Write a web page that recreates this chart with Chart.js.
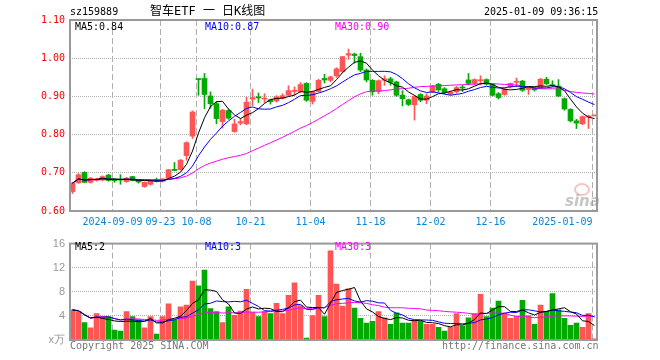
<!DOCTYPE html>
<html>
<head>
<meta charset="utf-8">
<script src="https://cdn.jsdelivr.net/npm/chart.js@4.4.1/dist/chart.umd.min.js"></script>
<style>
body { margin: 0; background: #fff; width: 660px; height: 360px; position: relative; overflow: hidden; }
canvas { position: absolute; left: 0; }
.t { position: absolute; font-family: 'DejaVu Sans Mono', monospace; font-size: 10px; line-height: 12px; white-space: pre; }
</style>
</head>
<body>
<canvas id="kline" width="660" height="232" style="top:0"></canvas>
<canvas id="vol" width="660" height="128" style="top:232px"></canvas>

<div class="t" style="left:70px;top:6px">sz159889</div>
<div class="t" style="left:150px;top:3px;font-size:12px;line-height:16px;font-family:'DejaVu Sans Mono','Noto Sans CJK SC'">智车ETF 一 日K线图</div>
<div class="t" style="left:484px;top:6px">2025-01-09 09:36:15</div>

<div class="t" style="left:75px;top:21px;color:#000">MA5:0.84</div>
<div class="t" style="left:205px;top:21px;color:#0000ff">MA10:0.87</div>
<div class="t" style="left:335px;top:21px;color:#ff00ff">MA30:0.90</div>

<div class="t" style="left:75px;top:241px;color:#000">MA5:2</div>
<div class="t" style="left:205px;top:241px;color:#0000ff">MA10:3</div>
<div class="t" style="left:335px;top:241px;color:#ff00ff">MA30:3</div>

<div class="t" style="left:70px;top:340px;color:#777">Copyright 2025 SINA.COM</div>
<div class="t" style="left:442px;top:340px;color:#777">http://finance.sina.com.cn</div>

<div style="position:absolute;left:574px;top:183px;width:12px;height:9px;border:2px solid rgba(240,120,120,0.45);border-radius:50%"></div>
<div style="position:absolute;left:565px;top:192px;font:italic bold 15px 'DejaVu Sans';color:rgba(150,150,150,0.55)">sina</div>

<script>
// trading days shown on the chart
const dates = [
  '2024-08-29','2024-08-30','2024-09-02','2024-09-03','2024-09-04','2024-09-05','2024-09-06',
  '2024-09-09','2024-09-10','2024-09-11','2024-09-12','2024-09-13','2024-09-18','2024-09-19','2024-09-20',
  '2024-09-23','2024-09-24','2024-09-25','2024-09-26','2024-09-27','2024-09-30',
  '2024-10-08','2024-10-09','2024-10-10','2024-10-11','2024-10-14','2024-10-15','2024-10-16','2024-10-17','2024-10-18',
  '2024-10-21','2024-10-22','2024-10-23','2024-10-24','2024-10-25','2024-10-28','2024-10-29','2024-10-30','2024-10-31',
  '2024-11-01','2024-11-04','2024-11-05','2024-11-06','2024-11-07','2024-11-08','2024-11-11','2024-11-12','2024-11-13',
  '2024-11-14','2024-11-15','2024-11-18','2024-11-19','2024-11-20','2024-11-21','2024-11-22','2024-11-25','2024-11-26',
  '2024-11-27','2024-11-28','2024-11-29','2024-12-02','2024-12-03','2024-12-04','2024-12-05','2024-12-06','2024-12-09',
  '2024-12-10','2024-12-11','2024-12-12','2024-12-13','2024-12-16','2024-12-17','2024-12-18','2024-12-19','2024-12-20',
  '2024-12-23','2024-12-24','2024-12-25','2024-12-26','2024-12-27','2024-12-30','2024-12-31',
  '2025-01-02','2025-01-03','2025-01-06','2025-01-07','2025-01-08','2025-01-09'
];

const opens = [
  0.651,0.674,0.701,0.675,0.680,0.681,0.694,0.681,0.683,0.677,0.690,0.680,0.664,0.670,0.682,
  0.678,0.686,0.709,0.708,0.745,0.796,0.946,0.947,0.901,0.881,0.834,0.863,0.808,0.830,0.828,
  0.893,0.899,0.893,0.891,0.888,0.895,0.903,0.913,0.913,0.934,0.887,0.913,0.947,0.942,0.954,
  0.965,1.008,1.011,1.004,0.969,0.942,0.913,0.942,0.946,0.938,0.903,0.891,0.878,0.905,0.890,
  0.912,0.932,0.920,0.906,0.912,0.924,0.943,0.934,0.941,0.944,0.931,0.907,0.905,0.925,0.937,
  0.940,0.918,0.921,0.923,0.945,0.930,0.927,0.894,0.866,0.836,0.828,0.846,0.849
];
const highs = [
  0.675,0.698,0.703,0.688,0.686,0.692,0.696,0.685,0.695,0.688,0.691,0.682,0.676,0.681,0.686,
  0.685,0.709,0.727,0.735,0.781,0.862,0.946,0.960,0.912,0.886,0.866,0.866,0.840,0.842,0.898,
  0.919,0.909,0.907,0.893,0.902,0.907,0.928,0.925,0.936,0.936,0.914,0.945,0.958,0.953,0.975,
  1.005,1.024,1.013,1.013,0.972,0.944,0.943,0.954,0.950,0.940,0.915,0.893,0.902,0.907,0.907,
  0.929,0.934,0.923,0.914,0.926,0.929,0.960,0.946,0.954,0.946,0.933,0.910,0.921,0.935,0.948,
  0.942,0.925,0.924,0.947,0.950,0.941,0.944,0.896,0.868,0.840,0.849,0.851,0.849
];
const lows = [
  0.646,0.672,0.674,0.673,0.678,0.679,0.678,0.675,0.670,0.675,0.679,0.673,0.662,0.668,0.676,
  0.676,0.685,0.705,0.707,0.733,0.790,0.903,0.868,0.869,0.828,0.817,0.840,0.806,0.826,0.826,
  0.876,0.884,0.884,0.880,0.885,0.893,0.900,0.903,0.910,0.887,0.880,0.912,0.935,0.938,0.950,
  0.962,0.997,0.987,0.965,0.938,0.903,0.907,0.929,0.929,0.900,0.875,0.876,0.838,0.886,0.881,
  0.910,0.913,0.907,0.903,0.908,0.913,0.930,0.930,0.930,0.930,0.901,0.893,0.903,0.922,0.925,
  0.913,0.905,0.914,0.921,0.931,0.925,0.899,0.864,0.833,0.816,0.826,0.816,0.849
];
const closes = [
  0.673,0.695,0.675,0.686,0.684,0.690,0.680,0.679,0.681,0.686,0.680,0.676,0.675,0.680,0.678,
  0.684,0.708,0.706,0.733,0.779,0.859,0.944,0.905,0.881,0.842,0.864,0.843,0.828,0.834,0.885,
  0.897,0.896,0.895,0.886,0.899,0.902,0.915,0.916,0.931,0.890,0.912,0.942,0.943,0.951,0.972,
  1.004,1.012,1.007,0.969,0.943,0.912,0.941,0.946,0.937,0.903,0.894,0.879,0.900,0.890,0.901,
  0.927,0.917,0.910,0.911,0.923,0.922,0.934,0.944,0.943,0.932,0.903,0.897,0.919,0.934,0.939,
  0.916,0.921,0.917,0.945,0.933,0.928,0.901,0.867,0.836,0.830,0.847,0.848,0.849
];
// volume, in units of 10k lots
const volumes = [
  5.0,4.7,2.9,2.0,4.4,3.9,3.9,1.65,1.5,4.7,3.9,3.4,2.0,3.9,1.0,
  3.9,6.0,3.25,5.5,5.8,9.8,9.0,11.6,5.2,4.7,2.9,5.5,4.1,4.8,8.4,
  4.6,3.9,4.7,4.4,6.1,4.4,7.4,9.5,5.7,0.3,4.05,7.4,3.9,14.8,9.3,
  5.65,8.5,5.3,3.6,2.8,3.1,4.7,3.7,2.6,4.5,2.8,2.8,3.25,3.1,2.6,
  2.6,2.1,1.5,2.1,4.4,2.35,3.7,4.4,7.6,3.9,5.3,6.45,4.4,3.6,3.9,
  6.6,4.05,2.6,5.8,4.7,7.7,5.0,3.6,2.45,2.8,2.1,4.4,0.2
];

const tickDates = ['2024-09-09','2024-09-23','2024-10-08','2024-10-21','2024-11-04','2024-11-18','2024-12-02','2024-12-16','2025-01-09'];
const tickLabels = ['2024-09-09','09-23','10-08','10-21','11-04','11-18','12-02','12-16','2025-01-09'];
const priceTicks = [0.6, 0.7, 0.8, 0.9, 1.0, 1.1];
const volTicks = [0, 4, 8, 12, 16];

const UP = '#ff5555', DOWN = '#00aa00';
const GRID = '#b0b0b0';
const MONO = { family: 'DejaVu Sans Mono', size: 10 };

function movingAvg(arr, n) {
  return arr.map((_, i) => {
    const win = arr.slice(Math.max(0, i - n + 1), i + 1);
    return win.reduce((a, b) => a + b, 0) / win.length;
  });
}

const idx = dates.map((_, i) => i);
const colors = idx.map(i => closes[i] >= opens[i] ? UP : DOWN);
const gridIdx = tickDates.map(d => dates.indexOf(d));

const frame = {
  id: 'frame',
  afterDraw(chart) {
    const { ctx, chartArea: a } = chart;
    ctx.save();
    ctx.strokeStyle = '#999';
    ctx.lineWidth = 2;
    ctx.strokeRect(a.left, a.top, a.right - a.left, a.bottom - a.top);
    ctx.restore();
  }
};

function xAxis(showLabels) {
  return {
    type: 'linear',
    offset: false,
    min: -5 / 12,
    max: dates.length - 1 + 5 / 12,
    afterBuildTicks: s => { s.ticks = gridIdx.map(i => ({ value: i - 1 / 3 })); },
    afterFit: s => { s.height = showLabels ? 21 : 0; },
    grid: { color: GRID, drawTicks: false, offset: false },
    border: { display: false, dash: [6, 3] },
    ticks: {
      display: showLabels,
      autoSkip: false,
      maxRotation: 0,
      padding: 5,
      color: '#0b84d8',
      font: MONO,
      callback: (v, k) => k === tickLabels.length - 1 ? tickLabels[k] + ' '.repeat(10) : tickLabels[k]
    }
  };
}

function yAxis(ticks, color, font, fmt) {
  return {
    min: ticks[0],
    max: ticks[ticks.length - 1],
    afterBuildTicks: s => { s.ticks = ticks.map(v => ({ value: v })); },
    afterFit: s => { s.width = 70; },
    grid: {
      color: c => (c.index === 0 || c.index === ticks.length - 1) ? 'rgba(0,0,0,0)' : GRID,
      drawTicks: false
    },
    border: { display: false, dash: [1, 1] },
    ticks: { color: color, padding: 5, font: font, callback: fmt }
  };
}

function maLine(values, color) {
  return {
    type: 'line',
    data: idx.map(i => ({ x: i, y: values[i] })),
    borderColor: color,
    borderWidth: 1,
    pointRadius: 0,
    tension: 0,
    order: 0
  };
}

const base = {
  responsive: false,
  animation: false,
  devicePixelRatio: 1,
  plugins: { legend: { display: false }, tooltip: { enabled: false } }
};

new Chart(document.getElementById('kline'), {
  type: 'bar',
  data: {
    datasets: [
      {
        data: idx.map(i => ({ x: i, y: [lows[i], highs[i]] })),
        backgroundColor: colors,
        barThickness: 1,
        grouped: false,
        order: 2
      },
      {
        data: idx.map(i => ({ x: i, y: [opens[i], closes[i]] })),
        backgroundColor: colors,
        barThickness: 5,
        minBarLength: 1,
        grouped: false,
        order: 1
      },
      maLine(movingAvg(closes, 5), '#000000'),
      maLine(movingAvg(closes, 10), '#0000ff'),
      maLine(movingAvg(closes, 30), '#ff00ff')
    ]
  },
  options: {
    ...base,
    layout: { padding: { left: 0, top: 20, right: 63, bottom: 0 } },
    scales: {
      x: xAxis(true),
      y: yAxis(priceTicks, '#ff0000', MONO, v => v.toFixed(2))
    }
  },
  plugins: [frame]
});

new Chart(document.getElementById('vol'), {
  type: 'bar',
  data: {
    datasets: [
      {
        data: idx.map(i => ({ x: i, y: volumes[i] })),
        backgroundColor: colors,
        barThickness: 5,
        grouped: false,
        order: 1
      },
      maLine(movingAvg(volumes, 5), '#000000'),
      maLine(movingAvg(volumes, 10), '#0000ff'),
      maLine(movingAvg(volumes, 30), '#ff00ff')
    ]
  },
  options: {
    ...base,
    layout: { padding: { left: 0, top: 9, right: 63, bottom: 20 } },
    scales: {
      x: xAxis(false),
      y: yAxis(volTicks, '#999999', { family: 'Liberation Sans', size: 11 }, v => v === 0 ? 'x万' : v)
    }
  },
  plugins: [frame]
});
</script>
</body>
</html>
